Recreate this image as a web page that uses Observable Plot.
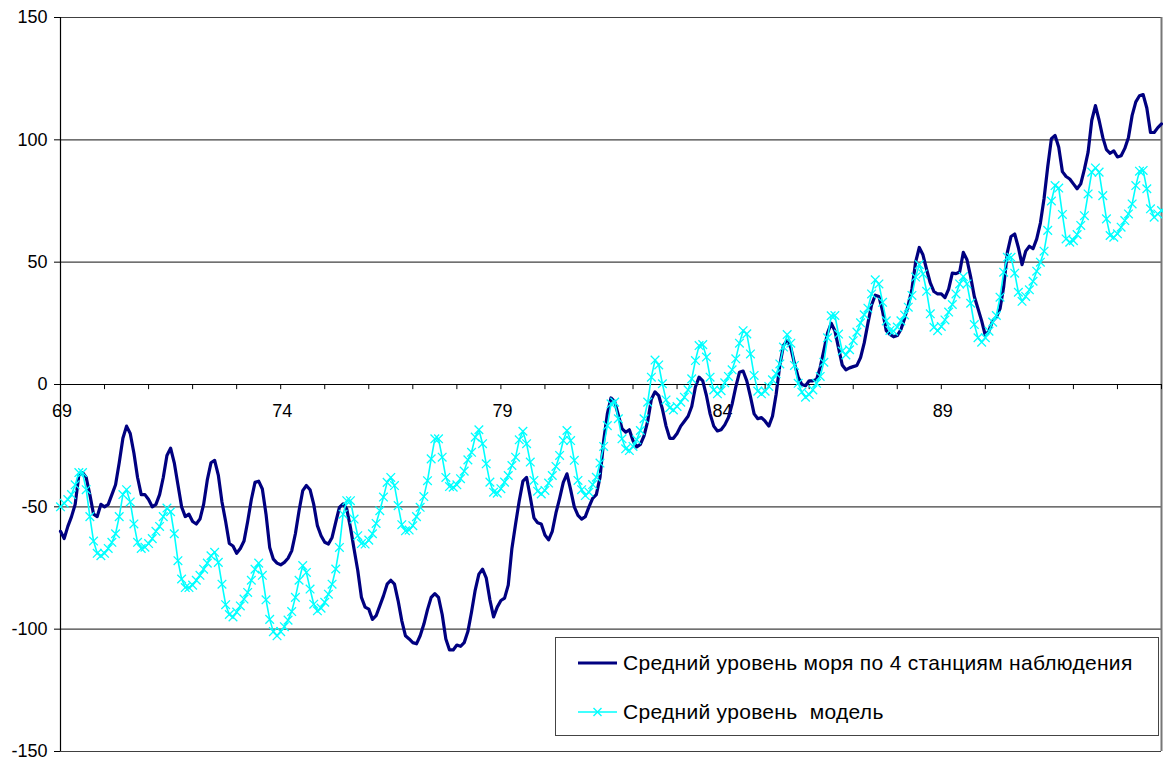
<!DOCTYPE html>
<html>
<head>
<meta charset="utf-8">
<script src="https://cdn.jsdelivr.net/npm/d3@7"></script>
<script src="https://cdn.jsdelivr.net/npm/@observablehq/plot@0.6"></script>
<style>
  html, body { margin: 0; padding: 0; background: #fff; }
  #chart { position: relative; width: 1163px; height: 760px;
           font-family: Arial, "Liberation Sans", sans-serif; }
  #legend { position: absolute; left: 555px; top: 637px; height: 99px;
            box-sizing: border-box; border: 1px solid #444; background: #fff;
            padding: 14px 25px 0 0; font-size: 21px; letter-spacing: 0.3px; color: #000; }
  #legend .row { display: flex; align-items: center; height: 22px; white-space: pre; }
  #legend .row + .row { margin-top: 27px; }
  #legend svg { display: block; margin-right: 5px; }
</style>
</head>
<body>
<div id="chart"></div>
<script>
// Monthly series, January 1969 .. January 1994 (anomalies, mm)
const startYear = 1969;

// Observed mean sea level, averaged over 4 tide-gauge stations
const observed = [
  -60, -63, -58, -54, -49, -37, -36, -38, -45, -53, -54, -49,          // 1969
  -50, -49, -45, -41, -32, -22, -17, -20, -28, -38, -45, -45,          // 1970
  -47, -50, -49, -45, -38, -29, -26, -32, -41, -50, -54, -53,          // 1971
  -56, -57, -55, -49, -39, -32, -31, -37, -48, -56, -65, -66,          // 1972
  -69, -67, -64, -56, -47, -40, -39.5, -42.7, -53, -66.6, -71.4, -73,  // 1973
  -73.7, -72.7, -71, -68, -61, -51.6, -43.4, -41.3, -43, -49, -57.7, -61.8, // 1974
  -64.5, -65.2, -62.5, -56.3, -50.2, -48.8, -50.9, -58.4, -67.3, -76, -87, -91, // 1975
  -91.8, -96, -94.5, -90.5, -86.4, -81.6, -80, -81.6, -88.4, -96.6, -102.7, -104, // 1976
  -105.5, -106, -102.7, -98, -92, -87, -85.5, -87, -94, -104, -108.5, -108.5,   // 1977
  -106.5, -107, -105.5, -101, -93, -84, -77.5, -75.5, -79, -88, -95, -91,       // 1978
  -88.3, -87.3, -82, -67, -57, -47.5, -39.5, -38, -46, -54.5, -56.5, -57,       // 1979
  -61.5, -63.5, -60, -52.5, -46.5, -40, -36.5, -43, -50, -53.5, -55, -54,       // 1980
  -50, -46.5, -45, -38, -23, -12, -5.5, -7, -12.5, -18, -19.5, -18.5,           // 1981
  -23, -25.5, -24.5, -21, -15, -6, -3, -4.5, -10, -17, -22, -22,                // 1982
  -20, -17, -15, -13, -9, -1, 3, 1.5, -4.5, -12, -17, -19,                      // 1983
  -18.5, -16.5, -13.5, -8, -1, 5, 5.5, 1.5, -5, -12, -14, -13.5,                // 1984
  -15, -17, -13, -4, 8, 16, 18, 15, 8.5, 3, 0, -0.5,                            // 1985
  1.5, 1.5, 2, 7, 14, 21, 25, 22, 15, 8, 6, 6.8,                                // 1986
  7.3, 7.8, 11, 17, 25, 32.5, 36.5, 36, 30, 22, 20.5, 19.5,                     // 1987
  20, 22.5, 27, 32.5, 39, 50, 56, 53, 47, 41.5, 38, 37,                         // 1988
  37, 35.5, 39, 45.5, 45.3, 46, 54, 51, 44, 36, 31, 26,                         // 1989
  20, 22, 26, 27.5, 31, 40, 54, 60.5, 61.5, 56, 49, 54.5,                       // 1990
  56.5, 55.5, 59.5, 66, 76, 89, 100.5, 101.8, 97, 87, 85, 84,                   // 1991
  82, 80, 82, 88, 95, 108, 114, 108, 101, 96, 94.5, 95.5,                       // 1992
  93, 93.5, 96.5, 101, 110, 115.5, 118, 118.5, 113, 103, 103, 105,              // 1993
  106.5                                                                         // 1994
];

// Modelled mean sea level
const model = [
  -50, -48.5, -47, -45, -41, -36, -36, -43, -54, -64, -69, -70,                 // 1969
  -69, -67, -64.5, -61, -54, -45, -43, -48, -57, -64.5, -67, -66.5,             // 1970
  -65, -63, -60, -58, -54, -50.5, -52, -61, -72, -79.5, -83, -83,               // 1971
  -82, -80, -78, -75.5, -73, -70, -68.6, -72.7, -81.6, -90, -94, -95,           // 1972
  -93, -90.5, -87.7, -85, -80, -75.5, -73, -78, -88, -96, -101, -102.7,         // 1973
  -101, -99, -96.3, -92.8, -87, -80, -74, -76.8, -83.6, -89.8, -92.5, -91.4,    // 1974
  -89, -85.7, -81.6, -75.4, -66.6, -53, -47.5, -47.5, -55, -61.8, -65, -65.2,   // 1975
  -63.6, -61, -56.8, -51.6, -46, -40, -38, -41.3, -49.5, -57.3, -59.8, -59.5,   // 1976
  -57.7, -54, -50.2, -45.8, -39.3, -30.4, -22.2, -22.2, -29.7, -38, -41.7, -42, // 1977
  -41, -38.5, -35.4, -30.8, -27.7, -21.5, -18.5, -24.2, -32.4, -39.9, -44, -44.4, // 1978
  -42.6, -39.9, -37.2, -33.1, -29.7, -22.6, -19.1, -24.2, -31.7, -39.2, -43.6, -44.7, // 1979
  -43.3, -40.3, -37.2, -33.5, -29, -22.9, -18.8, -22.9, -31, -39.2, -43, -45.4, // 1980
  -44, -40.9, -37.9, -32.1, -25.3, -16.8, -7.9, -7.2, -14, -22.2, -26.3, -27,   // 1981
  -25.3, -22.6, -18.8, -14, -7.2, 3, 10, 8, 0.3, -6.3, -9.5, -10.4,             // 1982
  -9, -7.2, -5.2, -2.2, 2.3, 9.8, 15.9, 16.3, 11.2, 3, -2.2, -3.8,              // 1983
  -2.5, 0.7, 3.3, 6, 10.5, 16.9, 22, 20.7, 12.5, 3.7, -2.7, -3.8,               // 1984
  -2.7, -0.8, 1.9, 4.4, 8.4, 15.3, 20.4, 16.9, 7.8, 0.5, -3.1, -5.2,            // 1985
  -4.1, -2.2, 0.5, 3.3, 9.1, 19.1, 28.1, 28.2, 20.6, 13.7, 12.1, 14.2,          // 1986
  17.9, 21.4, 25.2, 28.5, 31.2, 37, 42.8, 41.1, 33.6, 26, 22.1, 21.8,           // 1987
  23.5, 26, 28.4, 31.6, 36.4, 43.9, 49, 45.2, 38.1, 28.9, 23.4, 22,             // 1988
  23.7, 26.4, 29.6, 32.7, 37, 41.1, 44.1, 41.1, 33.2, 24.5, 19.1, 17.3,         // 1989
  19.1, 21.8, 25.5, 28.2, 35.7, 45.9, 52, 52, 45.5, 37.7, 34, 36,               // 1990
  38.7, 42.2, 46.3, 50, 54.5, 63, 75, 81.3, 80.3, 69.5, 59.5, 58.2,             // 1991
  58.8, 61.3, 65, 69, 77.9, 86.8, 88.5, 86.8, 77.2, 67.7, 60.9, 60.2,           // 1992
  61.6, 64.3, 67, 69.7, 73.8, 81.3, 87.2, 87.5, 80, 71.8, 68.4, 69.7,           // 1993
  71.1                                                                          // 1994
];

// Axis values
const yTicks = [-150, -100, -50, 0, 50, 100, 150];
const yearLabels = ["69", "74", "79", "84", "89"];
const seriesNames = ["Средний уровень моря по 4 станциям наблюдения", "Средний уровень  модель"];

const navy = "#000080";
const cyan = "#00FFFF";

const rows = observed.map((v, i) => ({i, obs: v, mod: model[i]}));
const lastMonth = observed.length - 1;
const yearTicks = d3.range(0, lastMonth + 1, 12);
const labelRows = yearLabels.map(s => ({label: s, i: (1900 + Number(s) - startYear) * 12}));

const chart = Plot.plot({
  width: 1163,
  height: 760,
  marginLeft: 60,
  marginRight: 2,
  marginTop: 17,
  marginBottom: 9,
  style: {fontFamily: "Arial, 'Liberation Sans', sans-serif", fontSize: "18px", color: "#000", background: "#fff", overflow: "visible"},
  x: {domain: [0, lastMonth], axis: null},
  y: {domain: [-150, 150]},
  marks: [
    // horizontal grid
    Plot.ruleY(yTicks.filter(d => d !== 0), {stroke: "#000", strokeOpacity: 0.75, strokeWidth: 1.2}),
    // right edge of the plot area
    Plot.ruleX([lastMonth], {stroke: "#777", strokeWidth: 2}),
    // value axis with outside tick marks
    Plot.axisY({ticks: yTicks, tickSize: 6, tickPadding: 7, tickFormat: d => String(d), fontSize: 18, stroke: "#000"}),
    Plot.ruleX([0], {stroke: "#000", strokeWidth: 1.2}),
    // category axis drawn along zero
    Plot.ruleY([0], {stroke: "#000", strokeWidth: 1.2}),
    Plot.ruleX(yearTicks, {x: d => d, y1: 0, y2: -2.1, stroke: "#000"}),
    Plot.text(labelRows, {x: "i", y: 0, text: "label", dy: 27, dx: 1.5, fontSize: 18, fill: "#000"}),
    // series
    Plot.line(rows, {x: "i", y: "obs", stroke: navy, strokeWidth: 3.2, strokeLinejoin: "round"}),
    Plot.line(rows, {x: "i", y: "mod", stroke: cyan, strokeWidth: 1.6}),
    Plot.dot(rows, {x: "i", y: "mod", symbol: "times", r: 4, stroke: cyan, strokeWidth: 1.3})
  ]
});

const host = document.getElementById("chart");
host.appendChild(chart);

// legend box inside the plot area
const legend = document.createElement("div");
legend.id = "legend";
const swatch = (withMarker, color, width) => {
  const markerSvg = withMarker
    ? `<path d="M37.5,7 L45.5,15 M37.5,15 L45.5,7" stroke="${color}" stroke-width="1.4" fill="none"/>`
    : "";
  return `<svg width="62" height="22"><line x1="22" x2="61" y1="11" y2="11" stroke="${color}" stroke-width="${width}"/>${markerSvg}</svg>`;
};
legend.innerHTML =
  `<div class="row">${swatch(false, navy, 3.2)}<span>${seriesNames[0]}</span></div>` +
  `<div class="row">${swatch(true, cyan, 1.6)}<span>${seriesNames[1]}</span></div>`;
host.appendChild(legend);
</script>
</body>
</html>
